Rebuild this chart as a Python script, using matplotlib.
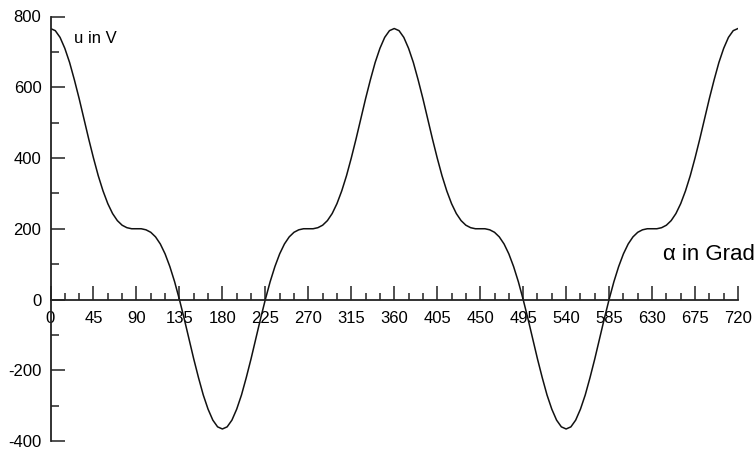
import matplotlib
matplotlib.use("Agg")
import matplotlib.pyplot as plt
from matplotlib.ticker import MultipleLocator
import numpy as np

plt.rcParams['font.family'] = ['Liberation Sans', 'DejaVu Sans']
plt.rcParams['axes.unicode_minus'] = False

# angle in degrees, 5 degree steps
alpha = np.arange(0, 725, 5)

# voltage (one value every 5 degrees)
u = [766, 760, 741, 710, 670, 621, 568, 511, 454, 400, 350, 307, 271, 243, 223, 210, 203, 200, 200,
     200, 197, 190, 177, 157, 129, 93, 50, 0, -54, -111, -168, -221, -270, -310, -341, -360, -366,
     -360, -341, -310, -270, -221, -168, -111, -54, 0, 50, 93, 129, 157, 177, 190, 197, 200, 200,
     200, 203, 210, 223, 243, 271, 307, 350, 400, 454, 511, 568, 621, 670, 710, 741, 760, 766,
     760, 741, 710, 670, 621, 568, 511, 454, 400, 350, 307, 271, 243, 223, 210, 203, 200, 200,
     200, 197, 190, 177, 157, 129, 93, 50, 0, -54, -111, -168, -221, -270, -310, -341, -360, -366,
     -360, -341, -310, -270, -221, -168, -111, -54, 0, 50, 93, 129, 157, 177, 190, 197, 200, 200,
     200, 203, 210, 223, 243, 271, 307, 350, 400, 454, 511, 568, 621, 670, 710, 741, 760, 766]

x_ticks = list(range(0, 721, 45))
y_ticks = [-400, -200, 0, 200, 400, 600, 800]

fig = plt.figure(figsize=(7.56, 4.53), dpi=100)
ax = fig.add_axes([50.5 / 756, 1 - 441 / 453, (738 - 50.5) / 756, (441 - 16.5) / 453])

ax.plot(alpha, u, color='#111111', linewidth=1.1)

ax.set_xlim(0, 720)
ax.set_ylim(-400, 800)

ax.spines['top'].set_visible(False)
ax.spines['right'].set_visible(False)
ax.spines['bottom'].set_position(('data', 0))
for s in ('left', 'bottom'):
    ax.spines[s].set_linewidth(1.3)
    ax.spines[s].set_color('#222222')

ax.set_xticks(x_ticks)
ax.set_yticks(y_ticks)
ax.xaxis.set_minor_locator(MultipleLocator(15))
ax.yaxis.set_minor_locator(MultipleLocator(100))

ax.tick_params(axis='x', which='major', direction='in', length=10, width=1.1,
               labelsize=12, pad=8, color='#222222')
ax.tick_params(axis='x', which='minor', direction='in', length=5, width=1.1, color='#222222')
ax.tick_params(axis='y', which='major', direction='in', length=10, width=1.1,
               labelsize=12, pad=6.5, color='#222222')
ax.tick_params(axis='y', which='minor', direction='in', length=5.5, width=1.1, color='#222222')

ax.text(25, 738, 'u in V', fontsize=12, va='center', ha='left')
fig.text(0.999, 1 - 255 / 453, 'α in Grad', fontsize=16, va='center', ha='right')

fig.savefig('out.png', dpi=100)
